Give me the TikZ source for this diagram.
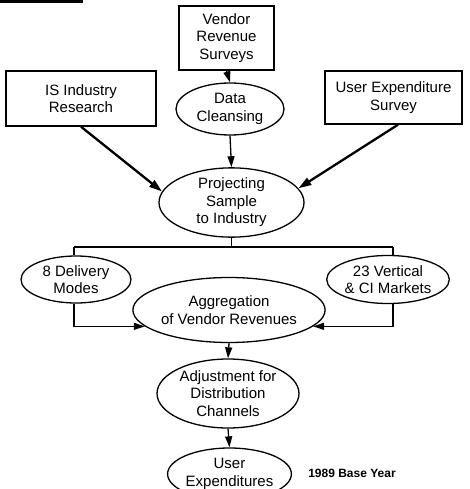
\documentclass[tikz,border=0pt]{standalone}
\usepackage{fontspec}
\setmainfont{Liberation Sans}
\usetikzlibrary{shapes.geometric,arrows.meta}
\begin{document}
\begin{tikzpicture}[x=1pt,y=-1pt,
  txt/.style={font=\fontsize{15}{17.5}\selectfont, align=center, inner sep=0pt},
  srcbox/.style={txt, draw, line width=1.4pt, rectangle},
  proc/.style={txt, draw, line width=1.3pt, ellipse},
  flow/.style={line width=1.3pt, -{Triangle[length=11pt,width=7pt]}},
  feed/.style={line width=2.3pt, -{Triangle[length=13pt,width=8pt]}},
  link/.style={line width=1.3pt}]
\useasboundingbox (0,0) rectangle (469,489);
\fill (0,0) rectangle (83,3);

% data sources
\node[srcbox, minimum width=95pt, minimum height=64pt] (vendor) at (226.5,38) {Vendor\\Revenue\\Surveys};
\node[srcbox, minimum width=150pt, minimum height=55pt] (isr) at (81,98.5) {IS Industry\\Research};
\node[srcbox, minimum width=137pt, minimum height=53pt] (user) at (393.5,97.5) {User Expenditure\\Survey};

% processing steps
\node[proc, minimum width=108pt, minimum height=52pt] (clean) at (230,109) {Data\\Cleansing};
\node[proc, minimum width=145pt, minimum height=69pt] (proj) at (231.5,202.5) {Projecting\\Sample\\to Industry};
\node[proc, minimum width=110pt, minimum height=47pt] (deliv) at (76,279.5) {8 Delivery\\Modes};
\node[proc, minimum width=102pt, minimum height=48pt] (vert) at (388,279.5) {23 Vertical\\\& CI Markets};
\node[proc, minimum width=144pt, minimum height=65pt] (agg) at (229,310) {Aggregation\\of Vendor Revenues};
\node[proc, minimum width=142pt, minimum height=69pt] (adj) at (228,393.5) {Adjustment for\\Distribution\\Channels};
\node[proc, minimum width=109pt, minimum height=52pt] (uexp) at (229.5,474) {User\\Expenditures};

\node[inner sep=0pt, font=\fontsize{12}{14}\selectfont\bfseries] (base) at (352,473) {1989 Base Year};

% connectors
\draw[flow] (vendor.south) -- (clean.north);
\draw[flow] (clean.south) -- (proj.north);
\draw[feed] (isr.south) -- (proj.171);
\draw[feed] ([xshift=4.5pt]user.south) -- (proj.12);

\coordinate (jl) at (74,247);
\coordinate (jr) at (393,247);
\draw[link] (proj.south) -- (proj.south |- jl);
\draw[link] (jl) -- (jr);
\draw[link] (jl) -- (jl |- deliv.north);
\draw[link] (jr) -- (jr |- vert.north);

\draw[flow] (jl |- deliv.south) |- (agg.191);
\draw[flow] (jr |- vert.south) |- (agg.-11);

\draw[flow] (agg.south) -- (adj.north);
\draw[flow] (adj.south) -- (uexp.north);
\end{tikzpicture}
\end{document}
